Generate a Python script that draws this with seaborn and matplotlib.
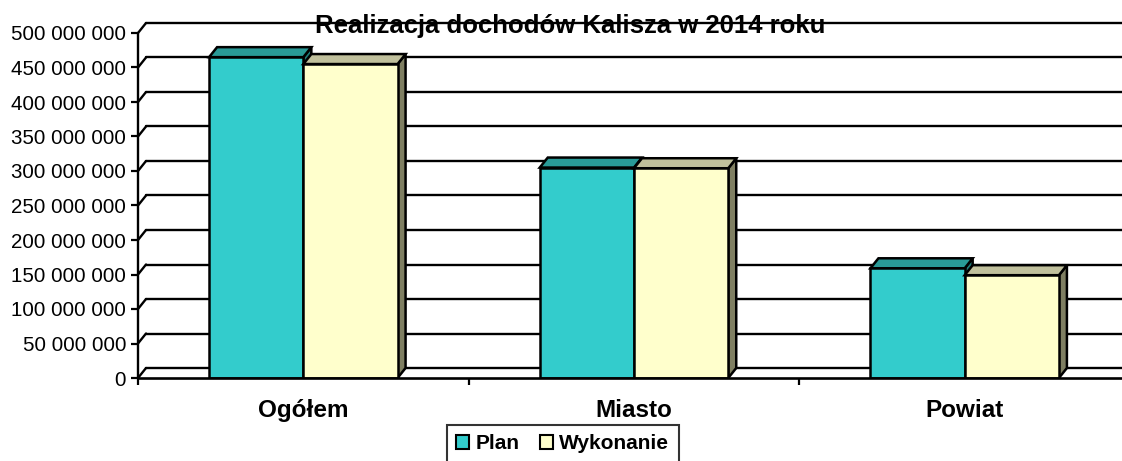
import numpy as np
import pandas as pd
import seaborn as sns
import matplotlib.pyplot as plt
from matplotlib.patches import Polygon, Patch
from matplotlib.ticker import FuncFormatter

# data
categories = ['Ogółem', 'Miasto', 'Powiat']
series = ['Plan', 'Wykonanie']
plan = [465e6, 305e6, 159e6]
wykonanie = [455e6, 304e6, 149e6]
y_ticks = np.arange(0, 500e6 + 1, 50e6)

df = pd.DataFrame({
    'kategoria': categories * 2,
    'seria': [series[0]] * 3 + [series[1]] * 3,
    'kwota': plan + wykonanie,
})

sns.set_theme(style='white')
plt.rcParams['font.family'] = ['Liberation Sans', 'DejaVu Sans']
plt.rcParams['text.color'] = 'black'

front = {'Plan': '#33CCCC', 'Wykonanie': '#FFFFCC'}
top_c = {'Plan': '#299A97', 'Wykonanie': '#C0C09C'}
side_c = {'Plan': '#1F7A78', 'Wykonanie': '#7F7F62'}

W, H = 1122, 461
fig = plt.figure(figsize=(W / 100, H / 100), dpi=100)
x_px = 330.67  # pixels per category
ax = fig.add_axes([138 / W, 1 - 378 / H, 3 * x_px / W, 345 / H])

sns.barplot(data=df, x='kategoria', y='kwota', hue='seria', palette=front,
            width=0.57, saturation=1, edgecolor='black', linewidth=1.8,
            ax=ax, legend=False)
ax.set_xlim(-0.5, 2.5)
ax.set_ylim(0, 500e6)

# depth of the 3d effect
dx = 8 / x_px
dy = 10 / 345 * 500e6

# back wall grid and side wall connectors
for v in y_ticks:
    ax.plot([-0.5 + dx, 2.5 + dx], [v + dy, v + dy], color='black', lw=1.7,
            clip_on=False, zorder=1)
    ax.plot([-0.5, -0.5 + dx], [v, v + dy], color='black', lw=1.7,
            clip_on=False, zorder=1)
ax.plot([-0.5, -0.5], [0, 500e6], color='black', lw=1.7, clip_on=False, zorder=1)
ax.plot([-0.5, 2.5], [0, 0], color='black', lw=1.9, clip_on=False, zorder=6)

# top and side faces for every bar
for i, bar in enumerate(ax.patches):
    name = series[i // 3]
    z = 3 + i // 3
    bar.set_zorder(z + 0.2)
    x0 = bar.get_x()
    x1 = x0 + bar.get_width()
    h = bar.get_height()
    top = Polygon([(x0, h), (x1, h), (x1 + dx, h + dy), (x0 + dx, h + dy)],
                  closed=True, facecolor=top_c[name], edgecolor='black',
                  lw=1.8, joinstyle='miter', clip_on=False, zorder=z + 0.1)
    side = Polygon([(x1, 0), (x1 + dx, dy), (x1 + dx, h + dy), (x1, h)],
                   closed=True, facecolor=side_c[name], edgecolor='black',
                   lw=1.8, joinstyle='miter', clip_on=False, zorder=z + 0.1)
    ax.add_patch(side)
    ax.add_patch(top)

for s in ax.spines.values():
    s.set_visible(False)

ax.set_yticks(y_ticks)
ax.yaxis.set_major_formatter(FuncFormatter(lambda v, p: f'{int(v):,}'.replace(',', ' ')))
ax.tick_params(axis='y', left=True, length=5, width=1.6, color='black',
               direction='out', pad=3.5, labelsize=14.8, labelcolor='black')
ax.set_xticks([0, 1, 2])
ax.set_xticklabels(categories, fontweight='bold', fontsize=17.5, color='black')
ax.set_xticks([-0.5, 0.5, 1.5, 2.5], minor=True)
ax.tick_params(axis='x', which='major', length=0, pad=15)
ax.tick_params(axis='x', which='minor', bottom=True, length=5, width=1.6,
               color='black', direction='out')
ax.set_xlabel('')
ax.set_ylabel('')

fig.text(570 / W, 1 - 26 / H, 'Realizacja dochodów Kalisza w 2014 roku',
         ha='center', va='center', fontsize=18.5, fontweight='bold',
         color='black', zorder=10)

handles = [Patch(facecolor=front[s], edgecolor='black', lw=1.5) for s in series]
leg = fig.legend(handles, series, loc='upper left',
                 bbox_to_anchor=(446.7 / W, 1 - 425 / H), bbox_transform=fig.transFigure,
                 borderaxespad=0, ncol=2, prop={'weight': 'bold', 'size': 15},
                 fancybox=False, handlelength=0.62, handleheight=0.62,
                 handletextpad=0.3, columnspacing=1.0, borderpad=0.45)
leg.get_frame().set_edgecolor('black')
leg.get_frame().set_linewidth(1.5)
for t in leg.get_texts():
    t.set_color('black')

fig.savefig('out.png', dpi=100)
